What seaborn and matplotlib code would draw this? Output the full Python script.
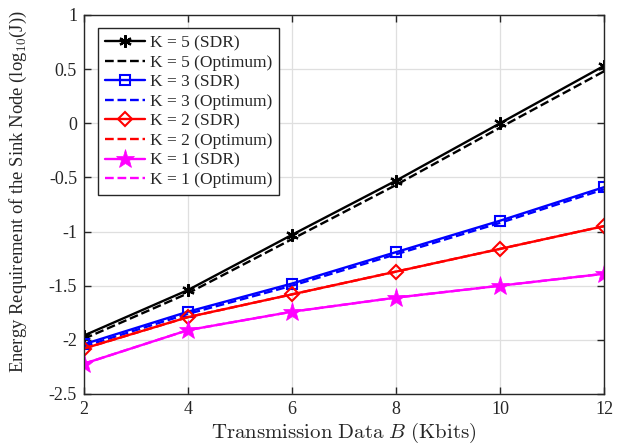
import numpy as np
import pandas as pd
import matplotlib
matplotlib.use("Agg")
import matplotlib.pyplot as plt
import seaborn as sns

# Transmission data sizes (Kbits)
data_kbits = [2, 4, 6, 8, 10, 12]

# Energy requirement of the sink node, log10(J)
k5_sdr = [-1.96, -1.54, -1.03, -0.53, 0.00, 0.53]
k5_opt = [-1.99, -1.57, -1.07, -0.57, -0.04, 0.48]
k3_sdr = [-2.04, -1.74, -1.48, -1.19, -0.90, -0.59]
k3_opt = [-2.06, -1.76, -1.50, -1.21, -0.92, -0.61]
k2_sdr = [-2.08, -1.79, -1.58, -1.37, -1.16, -0.95]
k2_opt = [-2.08, -1.79, -1.58, -1.37, -1.16, -0.95]
k1_sdr = [-2.22, -1.91, -1.74, -1.61, -1.50, -1.39]
k1_opt = [-2.22, -1.91, -1.74, -1.61, -1.50, -1.39]

series_labels = ["K = 5 (SDR)", "K = 5 (Optimum)", "K = 3 (SDR)", "K = 3 (Optimum)",
                 "K = 2 (SDR)", "K = 2 (Optimum)", "K = 1 (SDR)", "K = 1 (Optimum)"]
series_values = [k5_sdr, k5_opt, k3_sdr, k3_opt, k2_sdr, k2_opt, k1_sdr, k1_opt]

x_ticks = [2, 4, 6, 8, 10, 12]
y_ticks = [-2.5, -2, -1.5, -1, -0.5, 0, 0.5, 1]
y_tick_labels = ["-2.5", "-2", "-1.5", "-1", "-0.5", "0", "0.5", "1"]

sns.set_theme(style="whitegrid")
plt.rcParams["font.family"] = ["Liberation Serif", "DejaVu Serif"]
plt.rcParams["mathtext.fontset"] = "cm"

styles = {
    "K = 5 (SDR)": dict(color="black", linestyle="-", marker=(6, 2, 0), markersize=9,
                        markeredgewidth=1.6, markerfacecolor="black",
                        markeredgecolor="black"),
    "K = 5 (Optimum)": dict(color="black", linestyle="--"),
    "K = 3 (SDR)": dict(color="#0000ff", linestyle="-", marker="s", markersize=7,
                        markerfacecolor="none", markeredgewidth=1.5,
                        markeredgecolor="#0000ff"),
    "K = 3 (Optimum)": dict(color="#0000ff", linestyle="--"),
    "K = 2 (SDR)": dict(color="#ff0000", linestyle="-", marker="D", markersize=7.5,
                        markerfacecolor="none", markeredgewidth=1.5,
                        markeredgecolor="#ff0000"),
    "K = 2 (Optimum)": dict(color="#ff0000", linestyle="--"),
    "K = 1 (SDR)": dict(color="#ff00ff", linestyle="-", marker="*", markersize=14,
                        markerfacecolor="#ff00ff", markeredgewidth=0.5,
                        markeredgecolor="#ff00ff"),
    "K = 1 (Optimum)": dict(color="#ff00ff", linestyle="--"),
}

fig = plt.figure(figsize=(6.25, 4.46), dpi=100)
ax = fig.add_axes([0.1344, 0.1166, 0.832, 0.8498])
ax.set_facecolor("white")

for label, vals in zip(series_labels, series_values):
    df = pd.DataFrame({"B": data_kbits, "E": vals})
    st = dict(styles[label])
    ls = st.pop("linestyle")
    sns.lineplot(data=df, x="B", y="E", ax=ax, label=label, linewidth=1.7,
                 linestyle=ls, **st)

ax.set_xlim(2, 12)
ax.set_ylim(-2.5, 1)
ax.set_xticks(x_ticks)
ax.set_xticklabels([str(v) for v in x_ticks])
ax.set_yticks(y_ticks)
ax.set_yticklabels(y_tick_labels)
ax.grid(True, color="#dfdfdf", linewidth=0.9)
ax.tick_params(direction="in", length=5, width=1, color="#262626",
               labelsize=13, top=True, right=True, bottom=True, left=True,
               labelcolor="#262626", pad=5)
for sp in ax.spines.values():
    sp.set_color("#262626")
    sp.set_linewidth(1.0)
    sp.set_visible(True)

ax.set_xlabel(r"$\mathrm{Transmission\ Data}\ B\ \mathrm{(Kbits)}$", fontsize=15,
              color="#262626", labelpad=2)
ax.set_ylabel(r"Energy Requirement of the Sink Node (log$_{10}$(J))", fontsize=13.4,
              color="#262626")
ax.yaxis.set_label_coords(-0.105, 0.535)

leg = ax.legend(loc="upper left", bbox_to_anchor=(0.027, 0.966), fontsize=12.5,
                frameon=True, fancybox=False, framealpha=1, edgecolor="#262626",
                handlelength=2.3, handletextpad=0.3, borderpad=0.4,
                labelspacing=0.2, borderaxespad=0)
leg.get_frame().set_linewidth(1.0)

fig.savefig("out.png", dpi=100)
